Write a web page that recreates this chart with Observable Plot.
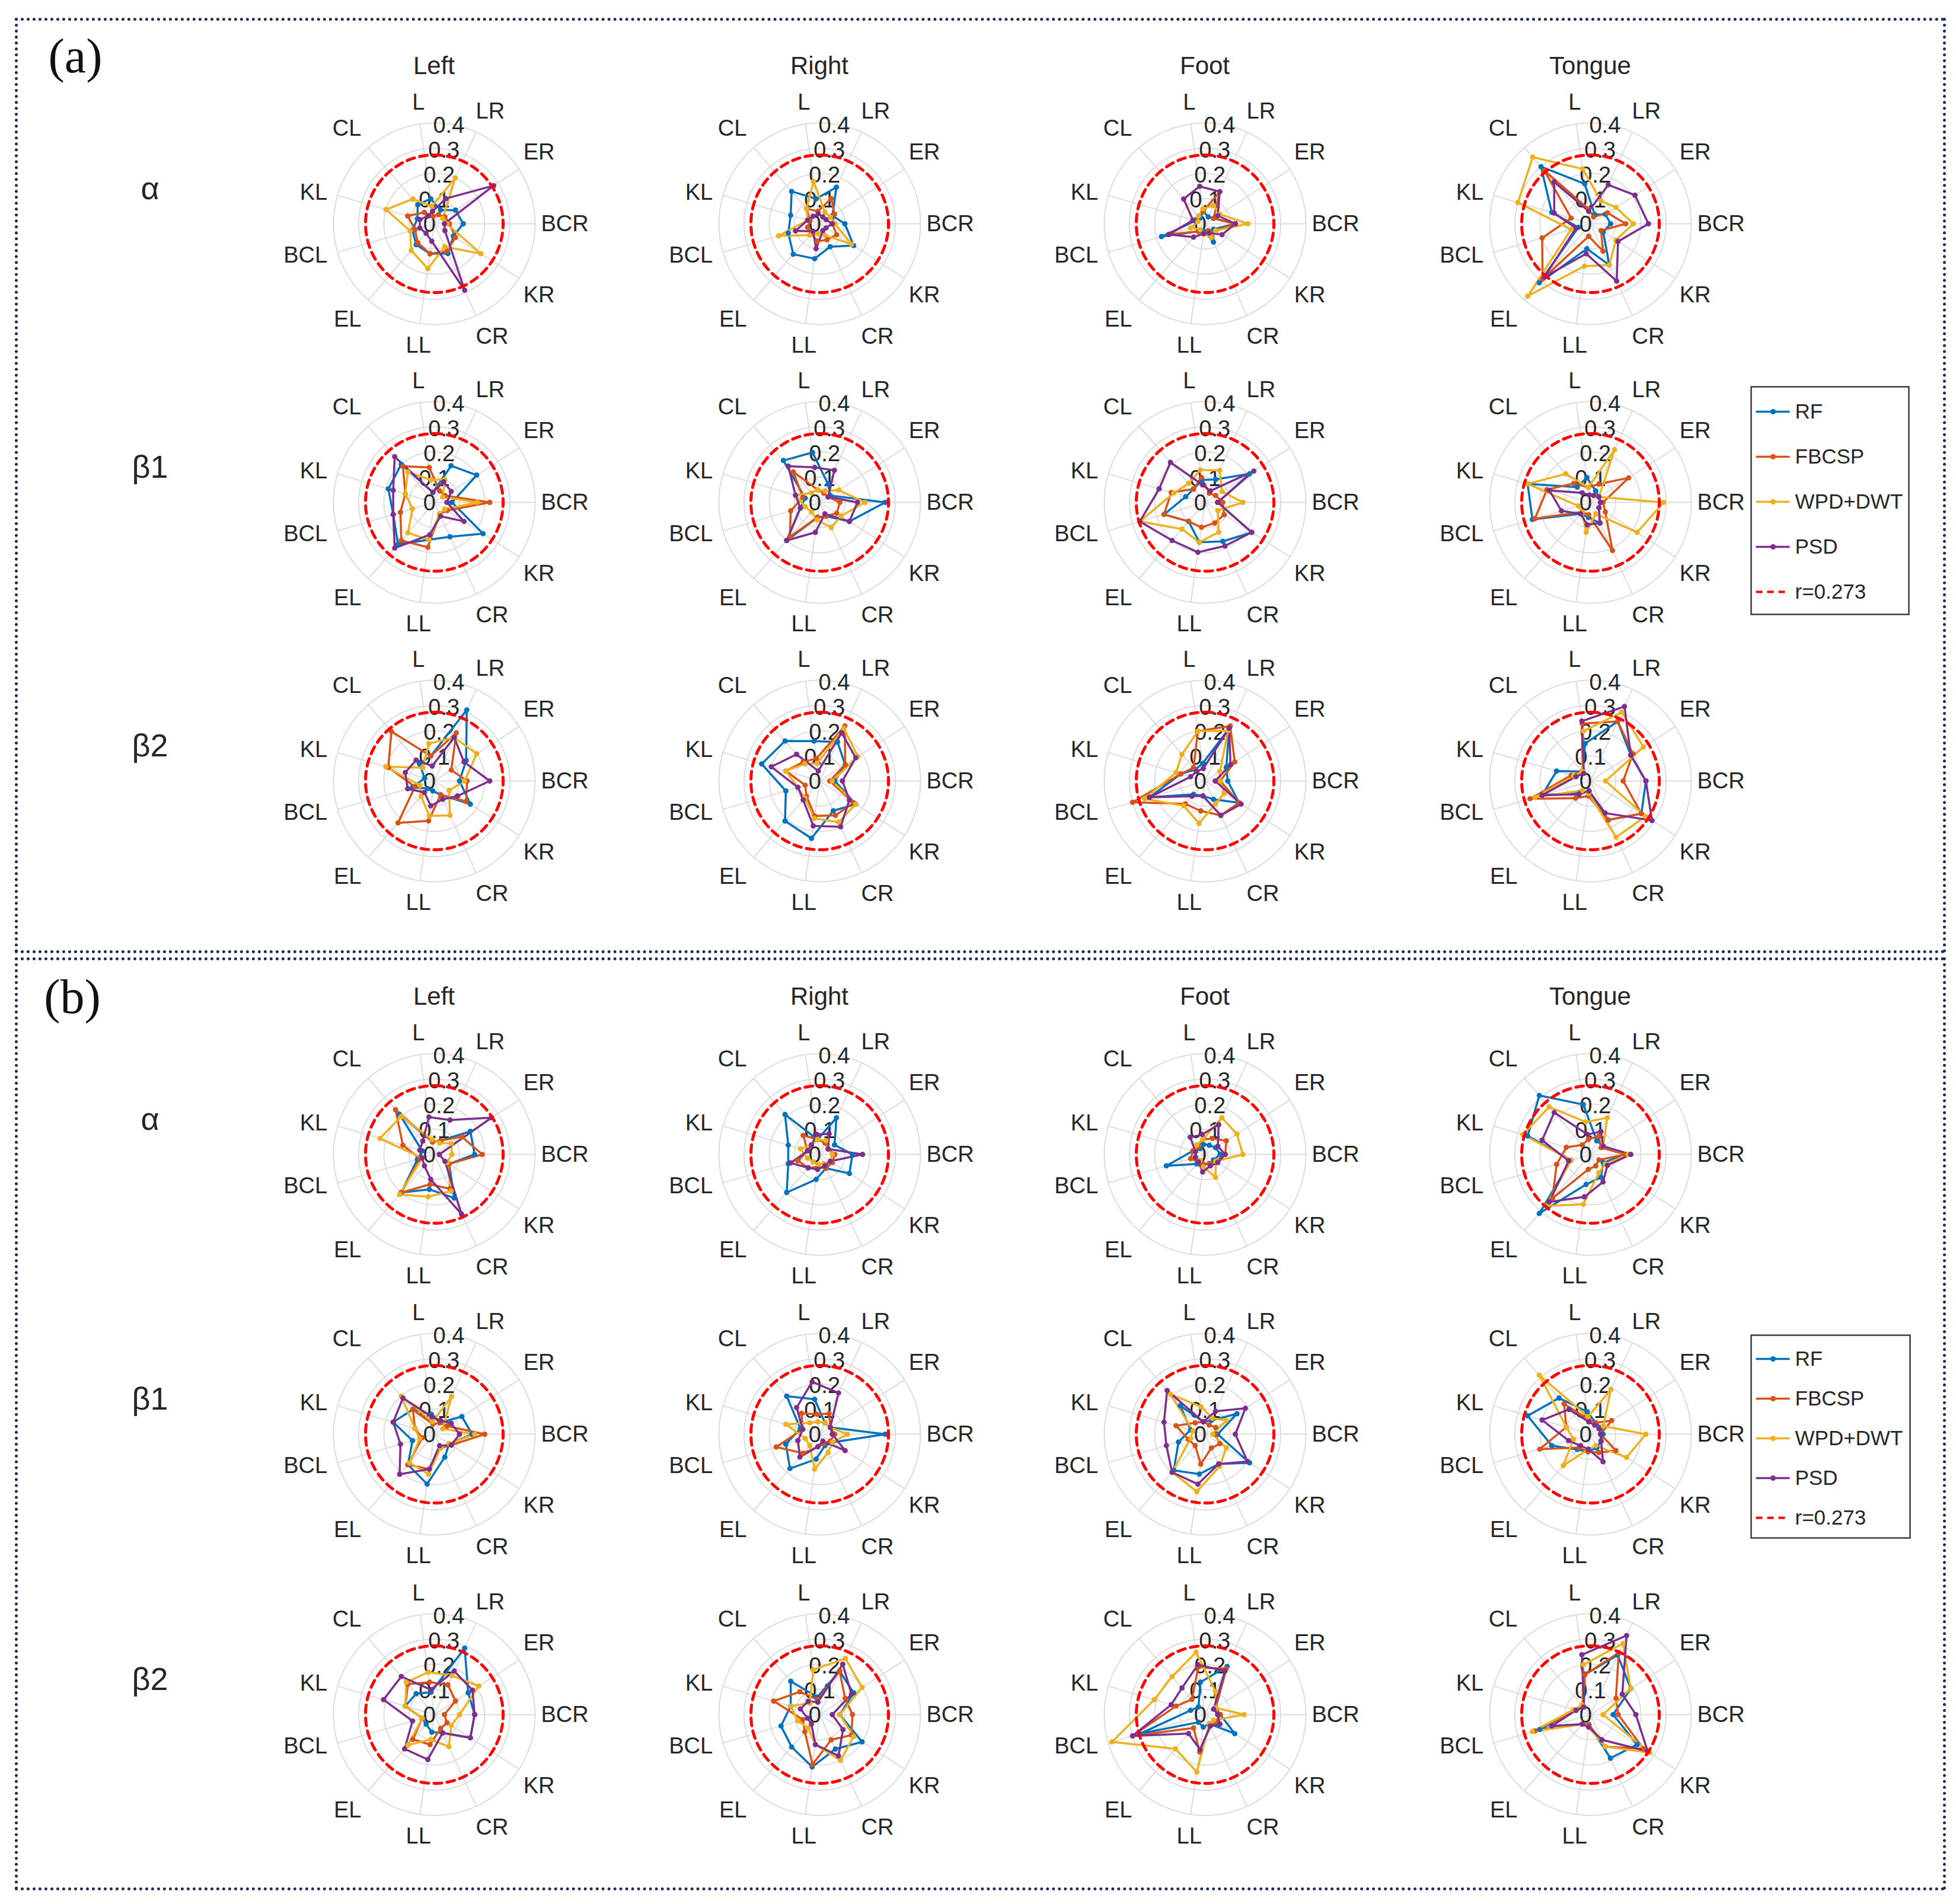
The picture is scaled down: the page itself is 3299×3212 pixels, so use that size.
<!DOCTYPE html>
<html><head><meta charset="utf-8">
<script src="https://cdn.jsdelivr.net/npm/d3@7"></script>
<script src="https://cdn.jsdelivr.net/npm/@observablehq/plot@0.6"></script>
<style>
body{margin:0;background:#fff;}
#root{position:relative;width:3299px;height:3212px;background:#fff;overflow:hidden;font-family:"Liberation Sans",Arial,Helvetica,sans-serif;color:#262626;}
.lbl{position:absolute;transform:translate(-50%,-50%);white-space:nowrap;line-height:1;}
.panel{position:absolute;border:5px dotted #1b2d55;box-sizing:border-box;}
</style></head><body><div id="root"></div>
<script>
// ---------- categories / labels ----------
const DIRECTIONS = ["L","LR","ER","BCR","KR","CR","LL","EL","BCL","KL","CL"];
const SERIES = ["RF","FBCSP","WPD+DWT","PSD"];
const SERIES_COLORS = ["#0072BD","#D95319","#EDB120","#7E2F8E"];
const THRESHOLD = 0.273;
const THRESHOLD_LABEL = "r=0.273";
const R_TICKS = [0, 0.1, 0.2, 0.3, 0.4];
const R_TICK_LABELS = ["0","0.1","0.2","0.3","0.4"];
const BANDS = ["α","β1","β2"];
const TASKS = ["Left","Right","Foot","Tongue"];
const PANELS = ["(a)","(b)"];

// ---------- values: rows = RF, FBCSP, WPD+DWT, PSD; columns = DIRECTIONS ----------
// panel (a)
const a_alpha_left   = [[0.10,0.06,0.10,0.115,0.09,0.13,0.12,0.11,0.09,0.07,0.10],
                        [0.03,0.04,0.05,0.06,0.10,0.12,0.12,0.10,0.08,0.11,0.06],
                        [0.07,0.20,0.04,0.05,0.22,0.10,0.18,0.14,0.10,0.20,0.13],
                        [0.05,0.11,0.28,0.04,0.05,0.29,0.07,0.05,0.06,0.06,0.04]];
const a_alpha_right  = [[0.10,0.16,0.06,0.10,0.16,0.10,0.14,0.16,0.13,0.12,0.17],
                        [0.05,0.11,0.07,0.05,0.08,0.07,0.07,0.05,0.05,0.04,0.08],
                        [0.17,0.05,0.05,0.06,0.15,0.05,0.04,0.06,0.17,0.05,0.08],
                        [0.04,0.03,0.03,0.05,0.03,0.03,0.10,0.04,0.10,0.05,0.04]];
const a_alpha_foot   = [[0.05,0.03,0.04,0.12,0.04,0.08,0.03,0.04,0.18,0.04,0.03],
                        [0.05,0.14,0.04,0.12,0.05,0.03,0.04,0.04,0.15,0.05,0.04],
                        [0.06,0.08,0.07,0.17,0.05,0.06,0.04,0.03,0.06,0.03,0.04],
                        [0.15,0.14,0.06,0.12,0.08,0.04,0.04,0.07,0.15,0.05,0.13]];
const a_alpha_tongue = [[0.16,0.04,0.07,0.08,0.06,0.18,0.10,0.31,0.05,0.16,0.30],
                        [0.06,0.03,0.08,0.14,0.05,0.12,0.05,0.29,0.20,0.08,0.28],
                        [0.22,0.10,0.12,0.17,0.12,0.18,0.17,0.38,0.08,0.30,0.35],
                        [0.05,0.17,0.21,0.23,0.13,0.25,0.12,0.28,0.06,0.15,0.22]];
const a_beta1_left   = [[0.04,0.16,0.20,0.07,0.23,0.15,0.15,0.22,0.17,0.19,0.20],
                        [0.14,0.05,0.05,0.22,0.06,0.05,0.18,0.20,0.14,0.12,0.19],
                        [0.09,0.10,0.04,0.17,0.05,0.05,0.15,0.16,0.09,0.12,0.16],
                        [0.04,0.09,0.08,0.05,0.14,0.06,0.13,0.24,0.17,0.17,0.24]];
const a_beta1_right  = [[0.20,0.08,0.05,0.26,0.14,0.06,0.06,0.20,0.08,0.06,0.22],
                        [0.05,0.04,0.04,0.08,0.08,0.06,0.06,0.18,0.12,0.07,0.16],
                        [0.05,0.05,0.09,0.18,0.10,0.11,0.07,0.05,0.06,0.10,0.05],
                        [0.14,0.14,0.04,0.15,0.14,0.05,0.12,0.20,0.08,0.10,0.19]];
const a_beta1_foot   = [[0.09,0.10,0.21,0.05,0.22,0.17,0.16,0.10,0.17,0.08,0.07],
                        [0.10,0.04,0.05,0.07,0.09,0.09,0.10,0.10,0.17,0.14,0.07],
                        [0.13,0.14,0.08,0.15,0.06,0.13,0.16,0.14,0.27,0.13,0.10],
                        [0.07,0.05,0.23,0.05,0.22,0.19,0.20,0.20,0.27,0.19,0.21]];
const a_beta1_tongue = [[0.10,0.05,0.04,0.04,0.04,0.09,0.06,0.06,0.24,0.26,0.08],
                        [0.06,0.08,0.18,0.05,0.07,0.21,0.05,0.05,0.23,0.18,0.10],
                        [0.06,0.23,0.04,0.29,0.22,0.05,0.12,0.05,0.05,0.26,0.15],
                        [0.03,0.03,0.04,0.04,0.04,0.09,0.09,0.06,0.12,0.17,0.05]];
const a_beta2_left   = [[0.10,0.31,0.15,0.10,0.17,0.06,0.04,0.04,0.09,0.04,0.09],
                        [0.10,0.21,0.08,0.13,0.15,0.06,0.16,0.22,0.08,0.19,0.26],
                        [0.15,0.19,0.20,0.12,0.07,0.15,0.14,0.08,0.06,0.20,0.07],
                        [0.06,0.19,0.14,0.22,0.11,0.08,0.10,0.06,0.11,0.12,0.11]];
const a_beta2_right  = [[0.16,0.17,0.12,0.06,0.17,0.13,0.23,0.21,0.14,0.24,0.21],
                        [0.09,0.24,0.12,0.04,0.16,0.15,0.14,0.08,0.06,0.14,0.10],
                        [0.07,0.23,0.18,0.05,0.17,0.18,0.15,0.09,0.09,0.14,0.09],
                        [0.04,0.21,0.17,0.09,0.14,0.20,0.18,0.10,0.09,0.20,0.14]];
const a_beta2_foot   = [[0.07,0.23,0.10,0.09,0.16,0.08,0.06,0.07,0.23,0.10,0.06],
                        [0.20,0.24,0.14,0.06,0.16,0.15,0.12,0.12,0.30,0.10,0.07],
                        [0.20,0.22,0.07,0.06,0.09,0.10,0.17,0.13,0.25,0.12,0.14],
                        [0.05,0.23,0.12,0.04,0.17,0.15,0.06,0.08,0.23,0.06,0.05]];
const a_beta2_tongue = [[0.15,0.26,0.19,0.22,0.24,0.17,0.04,0.06,0.20,0.14,0.05],
                        [0.23,0.26,0.20,0.13,0.24,0.17,0.06,0.09,0.25,0.08,0.05],
                        [0.20,0.30,0.25,0.06,0.26,0.245,0.05,0.05,0.23,0.07,0.05],
                        [0.24,0.325,0.19,0.22,0.29,0.14,0.04,0.07,0.20,0.06,0.04]];
// panel (b)
const b_alpha_left   = [[0.05,0.06,0.17,0.16,0.07,0.19,0.14,0.20,0.07,0.05,0.21],
                        [0.05,0.06,0.13,0.19,0.07,0.15,0.12,0.20,0.06,0.13,0.235],
                        [0.06,0.05,0.08,0.07,0.06,0.16,0.17,0.21,0.05,0.225,0.20],
                        [0.15,0.15,0.27,0.02,0.05,0.26,0.10,0.06,0.05,0.06,0.07]];
const b_alpha_right  = [[0.06,0.16,0.07,0.13,0.14,0.06,0.10,0.20,0.13,0.13,0.21],
                        [0.06,0.05,0.04,0.06,0.06,0.06,0.05,0.07,0.09,0.05,0.10],
                        [0.06,0.06,0.04,0.05,0.05,0.04,0.04,0.04,0.05,0.08,0.05],
                        [0.08,0.09,0.04,0.17,0.05,0.05,0.06,0.07,0.12,0.05,0.05]];
const b_alpha_foot   = [[0.04,0.04,0.05,0.06,0.04,0.04,0.04,0.05,0.16,0.05,0.03],
                        [0.06,0.07,0.10,0.08,0.05,0.04,0.04,0.04,0.06,0.05,0.04],
                        [0.06,0.16,0.15,0.15,0.05,0.10,0.05,0.03,0.04,0.04,0.05],
                        [0.08,0.13,0.06,0.08,0.06,0.05,0.07,0.04,0.04,0.04,0.09]];
const b_alpha_tongue = [[0.20,0.06,0.06,0.14,0.06,0.10,0.12,0.31,0.08,0.26,0.31],
                        [0.06,0.08,0.05,0.14,0.04,0.05,0.06,0.23,0.14,0.10,0.05],
                        [0.13,0.16,0.06,0.15,0.07,0.08,0.20,0.27,0.08,0.28,0.25],
                        [0.08,0.10,0.06,0.16,0.08,0.12,0.17,0.25,0.09,0.20,0.22]];
const b_beta1_left   = [[0.08,0.05,0.13,0.15,0.07,0.10,0.20,0.16,0.09,0.17,0.13],
                        [0.04,0.05,0.06,0.20,0.08,0.06,0.14,0.16,0.05,0.08,0.13],
                        [0.05,0.165,0.04,0.16,0.07,0.06,0.16,0.15,0.06,0.08,0.20],
                        [0.07,0.06,0.08,0.10,0.08,0.05,0.14,0.21,0.14,0.17,0.19]];
const b_beta1_right  = [[0.14,0.05,0.05,0.26,0.06,0.05,0.10,0.18,0.14,0.08,0.20],
                        [0.08,0.09,0.05,0.06,0.05,0.04,0.05,0.10,0.18,0.07,0.11],
                        [0.05,0.05,0.05,0.11,0.06,0.08,0.14,0.06,0.06,0.14,0.06],
                        [0.21,0.18,0.05,0.05,0.12,0.03,0.05,0.12,0.09,0.07,0.14]];
const b_beta1_foot   = [[0.05,0.06,0.15,0.05,0.21,0.13,0.16,0.19,0.11,0.06,0.15],
                        [0.05,0.04,0.05,0.04,0.07,0.06,0.12,0.06,0.07,0.12,0.06],
                        [0.11,0.07,0.10,0.03,0.10,0.14,0.23,0.20,0.06,0.05,0.21],
                        [0.05,0.10,0.19,0.12,0.20,0.13,0.20,0.20,0.16,0.17,0.23]];
const b_beta1_tongue = [[0.09,0.05,0.05,0.05,0.05,0.06,0.07,0.08,0.16,0.26,0.19],
                        [0.06,0.05,0.10,0.04,0.12,0.08,0.07,0.07,0.21,0.10,0.16],
                        [0.07,0.195,0.06,0.22,0.17,0.05,0.06,0.165,0.07,0.10,0.31],
                        [0.05,0.04,0.04,0.04,0.05,0.12,0.06,0.06,0.09,0.20,0.13]];
const b_beta2_left   = [[0.09,0.29,0.16,0.16,0.17,0.08,0.07,0.05,0.05,0.12,0.11],
                        [0.13,0.13,0.10,0.04,0.06,0.06,0.12,0.13,0.05,0.12,0.16],
                        [0.17,0.17,0.21,0.10,0.08,0.14,0.10,0.16,0.05,0.12,0.17],
                        [0.10,0.19,0.18,0.16,0.17,0.08,0.18,0.18,0.09,0.21,0.20]];
const b_beta2_right  = [[0.07,0.19,0.16,0.08,0.20,0.15,0.21,0.17,0.16,0.12,0.175],
                        [0.06,0.19,0.12,0.13,0.15,0.11,0.20,0.09,0.07,0.19,0.12],
                        [0.18,0.245,0.20,0.08,0.16,0.20,0.12,0.07,0.09,0.12,0.06],
                        [0.05,0.22,0.15,0.05,0.11,0.18,0.12,0.05,0.05,0.08,0.07]];
const b_beta2_foot   = [[0.13,0.21,0.05,0.06,0.14,0.04,0.05,0.04,0.27,0.06,0.04],
                        [0.19,0.20,0.05,0.06,0.05,0.05,0.15,0.07,0.30,0.12,0.08],
                        [0.25,0.10,0.05,0.155,0.04,0.04,0.23,0.18,0.385,0.21,0.20],
                        [0.20,0.19,0.04,0.05,0.07,0.05,0.14,0.10,0.30,0.14,0.14]];
const b_beta2_tongue = [[0.16,0.26,0.19,0.09,0.22,0.19,0.04,0.05,0.21,0.06,0.04],
                        [0.16,0.27,0.12,0.11,0.25,0.14,0.04,0.05,0.23,0.06,0.05],
                        [0.20,0.31,0.19,0.05,0.28,0.14,0.05,0.05,0.24,0.07,0.05],
                        [0.24,0.345,0.15,0.18,0.27,0.11,0.05,0.05,0.16,0.06,0.04]];

const PANEL_DATA = [
  [[a_alpha_left, a_alpha_right, a_alpha_foot, a_alpha_tongue],
   [a_beta1_left, a_beta1_right, a_beta1_foot, a_beta1_tongue],
   [a_beta2_left, a_beta2_right, a_beta2_foot, a_beta2_tongue]],
  [[b_alpha_left, b_alpha_right, b_alpha_foot, b_alpha_tongue],
   [b_beta1_left, b_beta1_right, b_beta1_foot, b_beta1_tongue],
   [b_beta2_left, b_beta2_right, b_beta2_foot, b_beta2_tongue]]
];

// ---------- layout ----------
const COL_X = [732, 1382, 2032, 2682];
const ROW_Y = [[377, 847, 1317], [1947, 2419, 2892]];
const SIZE = 520, HALF = SIZE / 2, PX_PER_UNIT = 425;
const DOM = HALF / PX_PER_UNIT;
const FONT = '"Liberation Sans", Arial, Helvetica, sans-serif';
const TXT = "#262626";
const GRID = "#dcdcdc";
const LABEL_FS = 38;

const root = document.getElementById("root");
const theta = k => (90 + (k - 3) * 360 / DIRECTIONS.length) * Math.PI / 180;
const RAX = 11 * Math.PI / 180;

function radar(values) {
  const pts = [];
  SERIES.forEach((s, si) => values[si].forEach((v, k) => {
    const t = theta(k);
    pts.push({series: s, dir: DIRECTIONS[k], v, x: v * Math.sin(t), y: v * Math.cos(t)});
  }));
  const ring = r => d3.range(0, 360, 2).map(a => ({r, x: r * Math.sin(a * Math.PI / 180), y: r * Math.cos(a * Math.PI / 180)}));
  const grid = R_TICKS.filter(r => r > 0).flatMap(ring);
  const thr = ring(THRESHOLD);
  const rmax = R_TICKS[R_TICKS.length - 1];
  const spokes = DIRECTIONS.map((d, k) => ({x: rmax * Math.sin(theta(k)), y: rmax * Math.cos(theta(k))}));
  // theta labels: anchored just outside the outer ring; aligned away from the centre
  const anchorR = 188 / PX_PER_UNIT;
  const halfH = 0.5 * LABEL_FS / PX_PER_UNIT;
  const startShift = -8 / PX_PER_UNIT;
  const labels = DIRECTIONS.map((d, k) => {
    const t = theta(k), s = Math.sin(t), c = Math.cos(t);
    const h = s > 0.3 ? "start" : s < -0.3 ? "end" : "middle";
    const v = c > 0.3 ? 1 : c < -0.3 ? -1 : 0;
    return {d, h, x: anchorR * s + (h === "start" ? startShift : 0), y: anchorR * c + v * halfH};
  });
  const labelMark = anchor => Plot.text(labels.filter(l => l.h === anchor),
    {x: "x", y: "y", text: "d", textAnchor: anchor, fontSize: LABEL_FS, fontFamily: FONT, fill: TXT});
  const rlab = R_TICKS.map((r, i) => ({t: R_TICK_LABELS[i], x: r * Math.sin(RAX) - 0.019, y: r * Math.cos(RAX) - 0.004}));
  return Plot.plot({
    width: SIZE, height: SIZE, margin: 0,
    x: {domain: [-DOM, DOM], axis: null},
    y: {domain: [-DOM, DOM], axis: null},
    color: {domain: SERIES, range: SERIES_COLORS},
    style: {background: "transparent", overflow: "visible"},
    marks: [
      Plot.line(grid, {x: "x", y: "y", z: "r", stroke: GRID, strokeWidth: 2, curve: "linear-closed"}),
      Plot.link(spokes, {x1: 0, y1: 0, x2: "x", y2: "y", stroke: GRID, strokeWidth: 2}),
      Plot.text(rlab, {x: "x", y: "y", text: "t", fontSize: LABEL_FS, fontFamily: FONT, fill: TXT}),
      Plot.line(pts, {x: "x", y: "y", z: "series", stroke: "series", strokeWidth: 3.5, curve: "linear-closed"}),
      Plot.dot(pts, {x: "x", y: "y", fill: "series", r: 4.5}),
      Plot.line(thr, {x: "x", y: "y", stroke: "#ff0000", strokeWidth: 5, strokeDasharray: "13,9", curve: "linear-closed"}),
      labelMark("start"), labelMark("end"), labelMark("middle")
    ]
  });
}

function place(el, left, top) {
  el.style.position = "absolute";
  el.style.left = left + "px";
  el.style.top = top + "px";
  root.appendChild(el);
}
function label(text, x, y, css) {
  const d = document.createElement("div");
  d.className = "lbl";
  d.textContent = text;
  d.style.left = x + "px";
  d.style.top = y + "px";
  Object.assign(d.style, css);
  root.appendChild(d);
}

// panel borders
[[25, 30, 3282, 1608], [25, 1615, 3282, 3189]].forEach(([l, t, r, b]) => {
  const d = document.createElement("div");
  d.className = "panel";
  Object.assign(d.style, {left: l + "px", top: t + "px", width: (r - l) + "px", height: (b - t) + "px"});
  root.appendChild(d);
});

PANEL_DATA.forEach((panel, p) => {
  label(PANELS[p], p === 0 ? 127 : 122, p === 0 ? 95 : 1682, {fontFamily: '"Liberation Serif", "Times New Roman", serif', fontSize: "82px", color: "#111"});
  TASKS.forEach((task, c) => label(task, COL_X[c], ROW_Y[p][0] - 266, {fontSize: "42px", color: TXT}));
  panel.forEach((row, r) => {
    label(BANDS[r], 253, ROW_Y[p][r] - 60, {fontSize: "54px", color: TXT});
    row.forEach((vals, c) => place(radar(vals), COL_X[c] - HALF, ROW_Y[p][r] - HALF));
  });
});

// legends
const LEGEND_ITEMS = SERIES.concat([THRESHOLD_LABEL]);
function legend(w, h, yTop, yBot) {
  const items = LEGEND_ITEMS.map((name, i) => ({name, i}));
  const lines = items.filter(d => d.name !== THRESHOLD_LABEL);
  const dash = items.filter(d => d.name === THRESHOLD_LABEL);
  return Plot.plot({
    width: w, height: h, margin: 0,
    x: {domain: [0, w], range: [0, w], axis: null},
    y: {domain: [0, LEGEND_ITEMS.length - 1], range: [yTop, yBot], axis: null},
    color: {domain: LEGEND_ITEMS, range: SERIES_COLORS.concat(["#ff0000"])},
    style: {background: "#fff", overflow: "visible"},
    marks: [
      Plot.frame({stroke: "#3c3c3c", strokeWidth: 2.5}),
      Plot.link(lines, {x1: 8, x2: 65, y1: "i", y2: "i", stroke: "name", strokeWidth: 3.5}),
      Plot.dot(lines, {x: 37, y: "i", fill: "name", r: 4.5}),
      Plot.link(dash, {x1: 8, x2: 65, y1: "i", y2: "i", stroke: "name", strokeWidth: 4, strokeDasharray: "11,8"}),
      Plot.text(items, {x: 74, y: "i", text: "name", textAnchor: "start", fontSize: 35, fontFamily: FONT, fill: TXT})
    ]
  });
}
place(legend(266, 384, 42, 346), 2953, 652);
place(legend(268, 342, 40, 308), 2953, 2252);
</script></body></html>
